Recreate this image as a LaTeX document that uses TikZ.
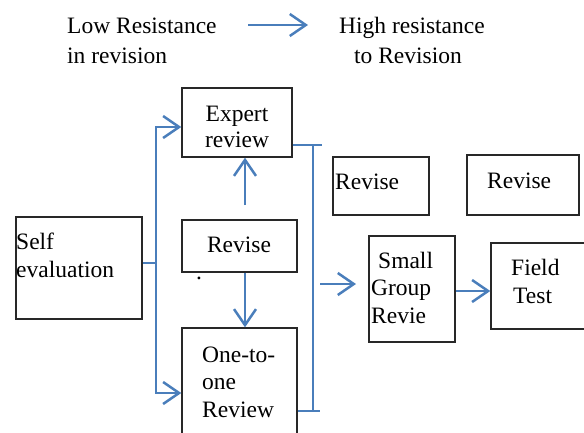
\documentclass[tikz,border=0pt]{standalone}
\usepackage{fontspec}
\setmainfont{Liberation Serif}
\usetikzlibrary{arrows.meta}
\definecolor{wblue}{RGB}{74,126,187}
\definecolor{bordergray}{RGB}{40,40,40}
\tikzset{
  box/.style={draw=bordergray, line width=1.4pt, rectangle, inner sep=0pt},
  txt/.style={inner sep=0pt, anchor=base west},
  txtc/.style={inner sep=0pt, anchor=base},
  conn/.style={draw=wblue, line width=2.5pt},
  arr/.style={conn, -{Straight Barb[length=16pt, width=22pt, line width=2.5pt]}},
}
\begin{document}
\begin{tikzpicture}[x=1pt, y=-1pt, font=\fontsize{23.5}{27}\selectfont]
\clip (0,0) rectangle (584,432);
% legend
\node[txt] (low1) at (67,33) {Low Resistance};
\node[txt] (low2) at (67,63) {in revision};
\node[txtc] (high1) at (412,33) {High resistance};
\node[txtc] (high2) at (408,63) {to Revision};
\coordinate (la) at (248,25);
\coordinate (lb) at (308,25);
\draw[arr] (la) -- (lb);
% boxes
\node[box, minimum width=110, minimum height=69] (expert) at (237,122.5) {};
\node[box, minimum width=126, minimum height=102] (selfe) at (79,268) {};
\node[box, minimum width=115, minimum height=52] (rev1) at (239.5,246) {};
\node[box, minimum width=115, minimum height=120] (one) at (239.5,388) {};
\node[box, minimum width=96, minimum height=58] (rev2) at (381,186) {};
\node[box, minimum width=112, minimum height=60] (rev3) at (523,185) {};
\node[box, minimum width=86, minimum height=106] (small) at (412,289) {};
\node[box, minimum width=110, minimum height=86] (field) at (546,286) {};
% box texts
\node[txtc] (t-exp1) at (237,121) {Expert};
\node[txtc] (t-exp2) at (237,147) {review};
\node[txt] (t-self1) at (16,249) {Self};
\node[txt] (t-self2) at (16,277) {evaluation};
\node[txtc] (t-rev1) at (239,252) {Revise};
\node[txt] (t-dot) at (196,279) {.};
\node[txt] (t-one1) at (202,362) {One-to-};
\node[txt] (t-one2) at (202,389) {one};
\node[txt] (t-one3) at (202,417) {Review};
\node[txt] (t-rev2) at (335,189) {Revise};
\node[txt] (t-rev3) at (487,188) {Revise};
\node[txt] (t-sm1) at (378,268) {Small};
\node[txt] (t-sm2) at (371,295) {Group};
\node[txt] (t-sm3) at (371,323) {Revie};
\node[txt] (t-f1) at (511,275) {Field};
\node[txt] (t-f2) at (513,303) {Test};
% left bracket
\coordinate (lt) at (156,127);
\coordinate (lbm) at (156,393);
\draw[conn] (lt) -- (lbm);
\draw[conn] ([yshift=5pt]selfe.east) -- ([yshift=5pt]selfe.east -| lt);
\draw[arr] ([xshift=-1pt]lt) -- (lt -| expert.west);
\draw[arr] ([xshift=-1pt]lbm) -- (lbm -| one.west);
% revise arrows
\coordinate (us) at (245,205);
\draw[arr] (us) -- (us |- expert.south);
\draw[arr] ([xshift=5.5pt]rev1.south) -- ([xshift=5.5pt]rev1.south |- one.north);
% right bracket
\coordinate (rt) at (313,145);
\coordinate (rte) at (322,145);
\coordinate (rb) at (313,411);
\coordinate (rbe) at (320,411);
\draw[conn] (rt) -- (rb);
\draw[conn] (expert.east |- rt) -- (rte);
\draw[conn] (one.east |- rb) -- (rbe);
\coordinate (ms) at (320,284);
\coordinate (me) at (356,284);
\draw[arr] (ms) -- (me);
\draw[arr] ([yshift=-2pt]small.east) -- ([yshift=-2pt]small.east -| field.west);
\end{tikzpicture}
\end{document}
